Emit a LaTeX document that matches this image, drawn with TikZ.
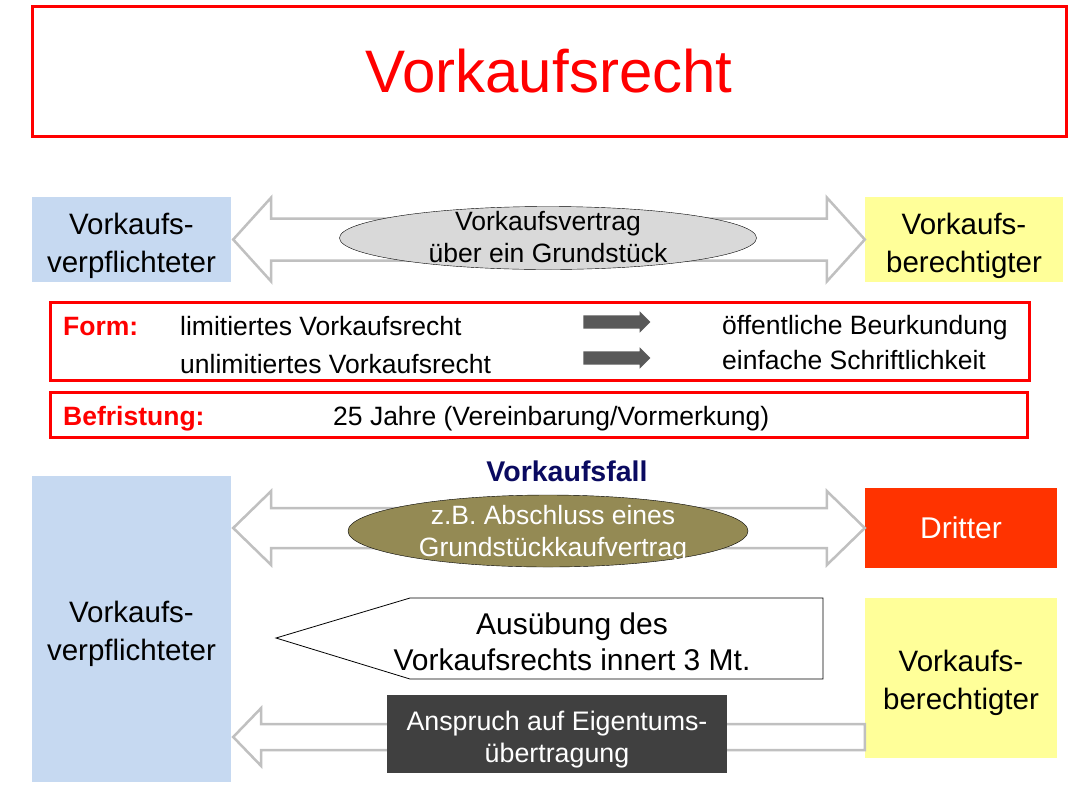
\documentclass[tikz,border=0pt]{standalone}
\usepackage{fontspec}
\setmainfont{Liberation Sans}
\usetikzlibrary{calc,shapes.geometric,shapes.arrows}
\definecolor{vkRot}{HTML}{FF0000}
\definecolor{vkBlau}{HTML}{C6D9F1}
\definecolor{vkGelb}{HTML}{FFFF99}
\definecolor{vkGrau}{HTML}{C0C0C0}
\definecolor{vkOval}{HTML}{D9D9D9}
\definecolor{vkOliv}{HTML}{948A54}
\definecolor{vkDritter}{HTML}{FF3300}
\definecolor{vkDunkel}{HTML}{404040}
\definecolor{vkPfeil}{HTML}{595959}
\definecolor{vkNavy}{HTML}{0A0A60}
\newcommand{\oben}[1]{\rule{0pt}{#1}}

\begin{document}
\begin{tikzpicture}[x=1pt,y=-1pt,
        partei/.style={inner sep=0pt,align=center,
                   font=\fontsize{29.5}{38}\selectfont},
        rahmen/.style={draw=vkRot,line width=3pt,inner sep=0pt},
        hohlpfeil/.style={draw=vkGrau,line width=2.5pt,fill=white,line join=miter},
        oval/.style={ellipse,draw=black,thin,inner sep=0pt},
        ovaltext/.style={align=center,inner sep=0pt,font=\fontsize{26.5}{32}\selectfont},
        zeile/.style={anchor=base west,inner sep=0pt,font=\fontsize{26.5}{32}\selectfont},
        marke/.style={zeile,text=vkRot,font=\fontsize{26.5}{32}\selectfont\bfseries},
        formpfeil/.style={single arrow,fill=vkPfeil,inner xsep=0pt,inner ysep=6.5pt,
                   minimum height=67pt,single arrow head extend=4pt}]
        \fill[white] (0,0) rectangle (1086,801);
        \useasboundingbox (0,0) rectangle (1086,801);
        % Titel
        \node[rahmen,minimum width=1034,minimum height=130,text=vkRot,
              font=\fontsize{60}{70}\selectfont] (titel) at (549,71) {Vorkaufsrecht};
        % Vertrag
        \node[partei,fill=vkBlau,minimum width=199,minimum height=85] (vp1) at (131.5,239.5) {\oben{34pt}Vorkaufs-\\verpflichteter};
        \node[partei,fill=vkGelb,minimum width=198,minimum height=85] (vb1) at (964,239.5) {\oben{34pt}Vorkaufs-\\berechtigter};
        \draw[hohlpfeil] ([xshift=2pt]vp1.east) coordinate (a1) -- ++(38,-42) -- ++(0,21)
              -- ($(vb1.west)+(-38,-21)$) -- ++(0,-21) -- (vb1.west) -- ++(-38,42) -- ++(0,-21)
              -- ($(a1)+(38,21)$) -- ++(0,21) -- cycle;
        \node[oval,fill=vkOval,minimum width=417,minimum height=63] (vertrag) at (548,238) {};
        \node[ovaltext] (vertragtext) at (548,237) {Vorkaufsvertrag\\über ein Grundstück};
        % Form
        \node[rahmen,minimum width=979,minimum height=78] (form) at (539.5,341) {};
        \node[marke] (formlbl) at (63,335) {Form:};
        \node[zeile] (lim) at (180,335) {limitiertes Vorkaufsrecht};
        \node[zeile] (unlim) at (180,373) {unlimitiertes Vorkaufsrecht};
        \node[formpfeil] (p1) at (613.5,322) {};
        \node[formpfeil] (p2) at (613.5,358) {};
        \node[zeile] (beurk) at (722,334) {öffentliche Beurkundung};
        \node[zeile] (schrift) at (722,369) {einfache Schriftlichkeit};
        % Befristung
        \node[rahmen,minimum width=977,minimum height=45] (frist) at (538.5,414.5) {};
        \node[marke] (fristlbl) at (63,425) {Befristung:};
        \node[zeile] (jahre) at (333,425) {25 Jahre (Vereinbarung/Vormerkung)};
        % Vorkaufsfall
        \node[text=vkNavy,font=\fontsize{28.5}{34}\selectfont\bfseries] (fall) at (567,471) {Vorkaufsfall};
        \node[partei,fill=vkBlau,minimum width=199,minimum height=306] (vp2) at (131.5,629) {\oben{32pt}Vorkaufs-\\verpflichteter};
        \node[partei,fill=vkDritter,text=white,minimum width=192,minimum height=80,
              font=\fontsize{30}{36}\selectfont] (dritter) at (961,528) {Dritter};
        \node[partei,fill=vkGelb,minimum width=192,minimum height=160] (vb2) at (961,678) {\oben{32pt}Vorkaufs-\\berechtigter};
        \draw[hohlpfeil] ($(vp2.east |- dritter.west)+(2,0)$) coordinate (a2) -- ++(38,-37) -- ++(0,17)
              -- ($(dritter.west)+(-38,-20)$) -- ++(0,-17) -- (dritter.west) -- ++(-38,37) -- ++(0,-17)
              -- ($(a2)+(38,20)$) -- ++(0,17) -- cycle;
        \node[oval,fill=vkOliv,minimum width=400,minimum height=72] (abschluss) at (548,531) {};
        \node[ovaltext,text=white] (abschlusstext) at (553,534) {z.B. Abschluss eines\\Grundstückkaufvertrag};
        % Ausuebung
        \draw[black,line width=0.8pt,fill=white] (823,598) -- (823,679) -- (410,679) -- (276,638) -- (410,598) -- cycle;
        \node[align=center,inner sep=0pt,font=\fontsize{30}{36}\selectfont] (ausuebung) at (572,642) {Ausübung des\\Vorkaufsrechts innert 3 Mt.};
        % Anspruch
        \coordinate (e3) at ([yshift=-59pt]vb2.west);
        \coordinate (t3) at ($(vp2.east |- e3)+(2,0)$);
        \draw[hohlpfeil] ($(e3)+(0,-13)$) -- ($(t3)+(28,-13)$) -- ++(0,-16) -- (t3) -- ++(28,29)
              -- ++(0,-16) -- ($(e3)+(0,13)$) -- cycle;
        \node[partei,fill=vkDunkel,text=white,minimum width=340,minimum height=78,
              font=\fontsize{26.8}{32}\selectfont] (anspruch) at (557,734) {\oben{31pt}Anspruch auf Eigentums-\\übertragung};
      \end{tikzpicture}
\end{document}
